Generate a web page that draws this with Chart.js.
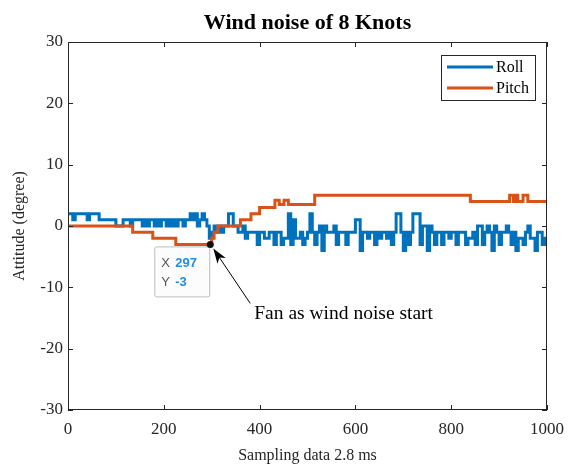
<!DOCTYPE html>
<html lang="en">
<head>
<meta charset="UTF-8" />
<title>Wind noise of 8 Knots</title>
<script src="https://cdn.jsdelivr.net/npm/chart.js@4.4.0/dist/chart.umd.min.js"></script>
<style>
  html, body { margin: 0; padding: 0; background: #fff; }
</style>
</head>
<body>
<canvas id="windChart" width="569" height="468"></canvas>
<script>
    // texts
    const titleText = 'Wind noise of 8 Knots';
    const xLabel = 'Sampling data 2.8 ms';
    const yLabel = 'Attitude (degree)';
    const noteText = 'Fan as wind noise start';
    const seriesNames = ['Roll', 'Pitch'];

    // ticks
    const xTicks = [0, 200, 400, 600, 800, 1000];
    const yTicks = [-30, -20, -10, 0, 10, 20, 30];

    // Roll: one value every 5 samples (0..1000)
    const sampleStep = 5;
    const rollValues = [
        2, 2, 1, 2, 2, 2, 2, 2, 1, 2,
        2, 2, 2, 1, 1, 1, 1, 1, 1, 1,
        0, 0, 0, 1, 1, 1, 0, 1, 1, 1,
        1, 0, 1, 0, 1, 1, 0, 1, 0, 1,
        1, 0, 1, 0, 1, 0, 1, 1, 0, 1,
        1, 2, 1, 2, 0, 1, 2, 1, 0, -2,
        -1, 0, -1, 0, -1, 0, 0, 2, 2, 0,
        0, -1, -1, 0, -2, -1, -1, -1, -1, -3,
        -1, -1, -2, -2, -1, -1, -3, -1, -1, -3,
        -2, -2, 2, -3, 1, -2, -2, -1, -3, -2,
        -1, 2, -1, -3, -1, 0, -4, 0, -1, -1,
        -1, 0, -3, -1, -1, -1, -3, -1, -1, -1,
        1, 1, -4, -1, -1, -2, -1, -1, -3, -1,
        -2, -1, -1, -2, -1, -3, -1, 2, 2, -1,
        -4, -1, -3, -1, 2, 2, 2, -3, 0, 0,
        -4, 0, -1, -3, -1, -1, -3, -1, -1, -2,
        -1, -1, -3, -1, -1, -1, -3, -2, -2, -1,
        -3, 0, 0, -3, -1, 0, -1, -4, 0, -1,
        -3, -1, -1, 0, -1, -3, -1, -4, -2, -2,
        -3, -1, 0, -2, -2, -4, -1, -1, -3, -2,
        -2
    ];

    // Pitch: step change points
    const pitchX = [0, 135, 177, 225, 300, 305, 313, 360, 382, 400, 432, 441, 451, 460, 515, 840, 922, 930, 933, 939, 950, 960, 1000];
    const pitchY = [0, -1, -2, -3, -2, -1, 0, 1, 2, 3, 4.2, 3.5, 4.2, 3.5, 5, 4, 5, 4, 5, 4, 5, 4, 4];

    // data tip
    const tipX = 297;
    const tipY = -3;

    const rollColor = '#0072BD';
    const pitchColor = '#D95319';
    const axisColor = '#262626';
    const serif = "'Liberation Serif', 'DejaVu Serif', serif";

    const rollData = rollValues.map((v, i) => ({ x: i * sampleStep, y: v }));
    const pitchData = pitchX.map((x, i) => ({ x: x, y: pitchY[i] }));

    // box, inward ticks, legend, data tip, note, title
    const decorPlugin = {
        id: 'decor',
        afterDatasetsDraw(chart) {
            const { ctx, chartArea: a, scales } = chart;
            const sx = scales.x, sy = scales.y;
            ctx.save();

            // frame + ticks
            ctx.strokeStyle = axisColor;
            ctx.lineWidth = 1;
            ctx.strokeRect(Math.round(a.left) + 0.5, Math.round(a.top) + 0.5,
                Math.round(a.right - a.left) - 1, Math.round(a.bottom - a.top) - 1);
            ctx.beginPath();
            xTicks.forEach(t => {
                const px = Math.round(sx.getPixelForValue(t)) + 0.5;
                ctx.moveTo(px, a.bottom); ctx.lineTo(px, a.bottom - 5);
                ctx.moveTo(px, a.top); ctx.lineTo(px, a.top + 5);
            });
            yTicks.forEach(t => {
                const py = Math.round(sy.getPixelForValue(t)) + 0.5;
                ctx.moveTo(a.left, py); ctx.lineTo(a.left + 5, py);
                ctx.moveTo(a.right, py); ctx.lineTo(a.right - 5, py);
            });
            ctx.stroke();

            // legend
            const lx = a.right - 106, ly = a.top + 13;
            ctx.fillStyle = '#fff';
            ctx.fillRect(lx, ly, 94, 45);
            ctx.strokeStyle = axisColor;
            ctx.strokeRect(lx + 0.5, ly + 0.5, 94, 45);
            ctx.font = '16px ' + serif;
            ctx.textBaseline = 'middle';
            ctx.textAlign = 'left';
            [rollColor, pitchColor].forEach((c, i) => {
                const yy = ly + 12 + i * 21;
                ctx.strokeStyle = c;
                ctx.lineWidth = 3;
                ctx.beginPath();
                ctx.moveTo(lx + 6, yy); ctx.lineTo(lx + 52, yy);
                ctx.stroke();
                ctx.fillStyle = '#000';
                ctx.fillText(seriesNames[i], lx + 55, yy + 1);
            });

            // data tip
            const dx = sx.getPixelForValue(tipX), dy = sy.getPixelForValue(tipY);
            const bx = dx - 56, by = dy + 2;
            ctx.fillStyle = '#fcfcfc';
            ctx.strokeStyle = '#bdbdbd';
            ctx.lineWidth = 1;
            ctx.beginPath();
            ctx.roundRect(bx + 0.5, by + 0.5, 55, 50, 2);
            ctx.fill();
            ctx.stroke();
            ctx.textBaseline = 'middle';
            ctx.font = '13px "Liberation Sans", Arial, sans-serif';
            ctx.fillStyle = '#555';
            ctx.fillText('X', bx + 7, by + 17);
            ctx.fillText('Y', bx + 7, by + 36);
            ctx.font = 'bold 13px "Liberation Sans", Arial, sans-serif';
            ctx.fillStyle = '#1f8ee6';
            ctx.fillText(String(tipX), bx + 21, by + 17);
            ctx.fillText(String(tipY), bx + 21, by + 36);
            ctx.fillStyle = '#111';
            ctx.beginPath();
            ctx.arc(dx, dy, 3.5, 0, Math.PI * 2);
            ctx.fill();

            // arrow + note
            const sxA = dx + 40, syA = dy + 59;
            const ex = dx + 3, ey = dy + 4;
            const ang = Math.atan2(ey - syA, ex - sxA);
            ctx.strokeStyle = '#000';
            ctx.lineWidth = 1;
            ctx.beginPath();
            ctx.moveTo(sxA, syA);
            ctx.lineTo(ex - 10 * Math.cos(ang), ey - 10 * Math.sin(ang));
            ctx.stroke();
            ctx.fillStyle = '#000';
            ctx.beginPath();
            ctx.moveTo(ex, ey);
            ctx.lineTo(ex - 15 * Math.cos(ang) + 5 * Math.sin(ang), ey - 15 * Math.sin(ang) - 5 * Math.cos(ang));
            ctx.lineTo(ex - 11 * Math.cos(ang), ey - 11 * Math.sin(ang));
            ctx.lineTo(ex - 15 * Math.cos(ang) - 5 * Math.sin(ang), ey - 15 * Math.sin(ang) + 5 * Math.cos(ang));
            ctx.closePath();
            ctx.fill();
            ctx.font = '19.5px ' + serif;
            ctx.textAlign = 'left';
            ctx.fillText(noteText, dx + 44, dy + 69);

            // title
            ctx.font = 'bold 22px ' + serif;
            ctx.textAlign = 'center';
            ctx.fillStyle = '#000';
            ctx.fillText(titleText, (a.left + a.right) / 2, 23);
            ctx.restore();
        }
    };

    const tickFont = { family: serif, size: 17 };
    const labelFont = { family: serif, size: 16 };

    new Chart(document.getElementById('windChart'), {
        type: 'line',
        data: {
            datasets: [
                {
                    label: seriesNames[0],
                    data: rollData,
                    borderColor: rollColor,
                    borderWidth: 3,
                    stepped: true,
                    pointRadius: 0,
                    order: 1
                },
                {
                    label: seriesNames[1],
                    data: pitchData,
                    borderColor: pitchColor,
                    borderWidth: 3,
                    stepped: true,
                    pointRadius: 0,
                    order: 0
                }
            ]
        },
        options: {
            responsive: false,
            animation: false,
            layout: { padding: { top: 42, right: 22, left: 0, bottom: 0 } },
            plugins: {
                legend: { display: false },
                tooltip: { enabled: false },
                title: { display: false }
            },
            scales: {
                x: {
                    type: 'linear',
                    min: 0,
                    max: 1000,
                    grid: { display: false, drawTicks: false },
                    border: { display: false },
                    ticks: { stepSize: 200, font: tickFont, color: axisColor, padding: 9, maxRotation: 0,
                        callback: v => String(v) },
                    title: { display: true, text: xLabel, font: labelFont, color: axisColor, padding: { top: 0, bottom: 3 } },
                    afterFit(s) { s.height = 58; s.paddingRight = 0; s.paddingLeft = 0; }
                },
                y: {
                    min: -30,
                    max: 30,
                    grid: { display: false, drawTicks: false },
                    border: { display: false },
                    ticks: { stepSize: 10, font: tickFont, color: axisColor, padding: 5,
                        callback: v => String(v) },
                    title: { display: true, text: yLabel, font: labelFont, color: axisColor, padding: { top: 10, bottom: 0 } },
                    afterFit(s) { s.width = 68; s.paddingTop = 0; s.paddingBottom = 0; }
                }
            }
        },
        plugins: [decorPlugin]
    });
</script>
</body>
</html>
